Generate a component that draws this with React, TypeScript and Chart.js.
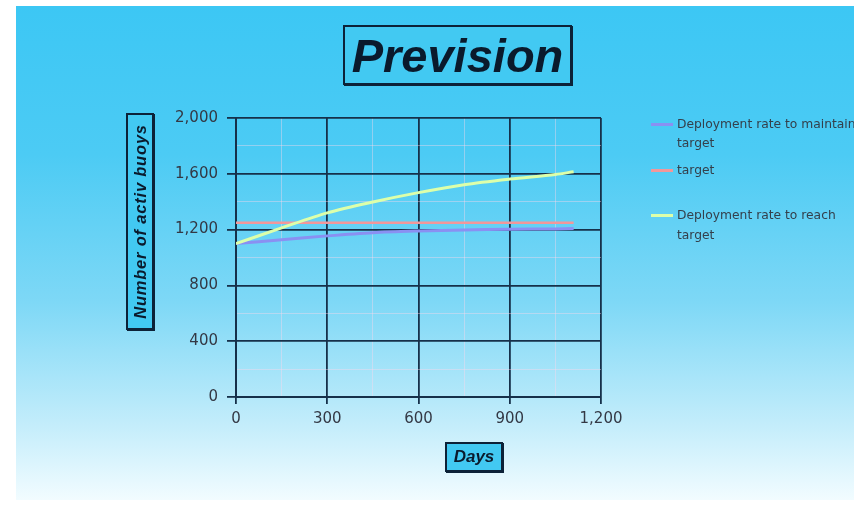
import React, { useEffect, useRef } from "react";
import { Chart, registerables } from "chart.js";

Chart.register(...registerables);

const days = [0, 150, 300, 450, 600, 750, 900, 1050, 1110];
const reachTarget = [1100, 1212, 1320, 1398, 1465, 1522, 1562, 1595, 1615];
const maintainTarget = [1100, 1127, 1155, 1178, 1190, 1198, 1203, 1205, 1207];
const targetDays = [0, 1110];
const targetValues = [1250, 1250];

const seriesLabels = [
  "Deployment rate to maintain target",
  "target",
  "Deployment rate to reach target",
];
const seriesColors = ["#8a90f2", "#f2979a", "#dcffaa"];

const chartTitle = "Prevision";
const xTitle = "Days";
const yTitle = "Number of activ buoys";

const xMin = 0, xMax = 1200, xStep = 150, xMajor = 300;
const yMin = 0, yMax = 2000, yStep = 200, yMajor = 400;

const MAJOR = "#16304a";
const MINOR = "rgba(255,215,235,0.4)";

export default function App() {
  const ref = useRef<HTMLCanvasElement | null>(null);

  useEffect(() => {
    if (!ref.current) return;
    const pts = (xs: number[], ys: number[]) => xs.map((x, i) => ({ x, y: ys[i] }));
    const chart = new Chart(ref.current, {
      type: "line",
      data: {
        datasets: [
          {
            label: seriesLabels[0],
            data: pts(days, maintainTarget),
            borderColor: seriesColors[0],
            borderWidth: 3,
            pointRadius: 0,
            tension: 0.3,
            order: 3,
          },
          {
            label: seriesLabels[1],
            data: pts(targetDays, targetValues),
            borderColor: seriesColors[1],
            borderWidth: 2.5,
            pointRadius: 0,
            order: 2,
          },
          {
            label: seriesLabels[2],
            data: pts(days, reachTarget),
            borderColor: seriesColors[2],
            borderWidth: 3,
            pointRadius: 0,
            tension: 0.3,
            order: 1,
          },
        ],
      },
      options: {
        animation: false,
        responsive: false,
        devicePixelRatio: 1,
        layout: { padding: { left: 0, top: 118, right: 253, bottom: 0 } },
        plugins: { legend: { display: false }, tooltip: { enabled: false }, title: { display: false } },
        scales: {
          x: {
            type: "linear",
            min: xMin,
            max: xMax,
            afterFit: (s: any) => { s.height = 112; },
            border: { display: true, color: MAJOR, width: 2 },
            grid: {
              color: (c: any) => (c.tick && c.tick.value % xMajor === 0 ? MAJOR : MINOR),
              lineWidth: (c: any) => (c.tick && c.tick.value % xMajor === 0 ? 1.8 : 1),
              tickColor: (c: any) => (c.tick && c.tick.value % xMajor === 0 ? MAJOR : "rgba(0,0,0,0)"),
              tickLength: 7,
            },
            ticks: {
              stepSize: xStep,
              autoSkip: false,
              maxRotation: 0,
              padding: 6,
              color: "#333844",
              font: { family: "DejaVu Sans", size: 15 },
              callback: (v: any) => (Number(v) % xMajor === 0 ? Number(v).toLocaleString("en-US") : ""),
            },
          },
          y: {
            min: yMin,
            max: yMax,
            afterFit: (s: any) => { s.width = 236; },
            border: { display: true, color: MAJOR, width: 2 },
            grid: {
              color: (c: any) => (c.tick && c.tick.value % yMajor === 0 ? MAJOR : MINOR),
              lineWidth: (c: any) => (c.tick && c.tick.value % yMajor === 0 ? 1.8 : 1),
              tickColor: (c: any) => (c.tick && c.tick.value % yMajor === 0 ? MAJOR : "rgba(0,0,0,0)"),
              tickLength: 9,
            },
            ticks: {
              stepSize: yStep,
              autoSkip: false,
              padding: 9,
              color: "#333844",
              font: { family: "DejaVu Sans", size: 15 },
              callback: (v: any) => (Number(v) % yMajor === 0 ? Number(v).toLocaleString("en-US") : ""),
            },
          },
        },
      },
    });
    return () => chart.destroy();
  }, []);

  const boxStyle: React.CSSProperties = {
    position: "absolute",
    border: "2px solid #0c2238",
    boxShadow: "1px 1px 0 #0c2238",
    background: "#42c9f2",
    color: "#0a1a2c",
    fontFamily: "'Liberation Sans', Arial, sans-serif",
    fontWeight: "bold",
    fontStyle: "italic",
    display: "flex",
    alignItems: "center",
    justifyContent: "center",
    boxSizing: "border-box",
    whiteSpace: "nowrap",
  };

  const legendText: React.CSSProperties = {
    position: "absolute",
    left: 677,
    fontFamily: "'DejaVu Sans', sans-serif",
    fontSize: 12.3,
    lineHeight: "19px",
    color: "#34404c",
    whiteSpace: "nowrap",
  };
  const legendLine = (top: number, color: string): React.CSSProperties => ({
    position: "absolute",
    left: 651,
    top,
    width: 22,
    height: 3,
    background: color,
  });

  return (
    <div style={{ position: "absolute", left: 0, top: 0, width: 854, height: 509, background: "#ffffff", overflow: "hidden" }}>
      <div
        style={{
          position: "absolute",
          left: 16,
          top: 6,
          width: 838,
          height: 494,
          background: "linear-gradient(180deg, #3cc7f4 0%, #4ccbf4 30%, #7ed8f6 60%, #c4edfb 85%, #f2fcff 100%)",
        }}
      />
      <canvas ref={ref} width={854} height={509} style={{ position: "absolute", left: 0, top: 0, width: 854, height: 509 }} />
      <div style={{ ...boxStyle, left: 343, top: 25, width: 229, height: 60, fontSize: 47 }}>{chartTitle}</div>
      <div style={{ ...boxStyle, left: 126, top: 113, width: 28, height: 217 }}>
        <span style={{ display: "inline-block", transform: "rotate(-90deg)", fontSize: 16.5, letterSpacing: 0.8 }}>{yTitle}</span>
      </div>
      <div style={{ ...boxStyle, left: 445, top: 442, width: 58, height: 30, fontSize: 17 }}>{xTitle}</div>

      <div style={legendLine(123, seriesColors[0])} />
      <div style={{ ...legendText, top: 115 }}>
        Deployment rate to maintain
        <br />
        target
      </div>
      <div style={legendLine(169, seriesColors[1])} />
      <div style={{ ...legendText, top: 161 }}>{seriesLabels[1]}</div>
      <div style={legendLine(214, seriesColors[2])} />
      <div style={{ ...legendText, top: 205, lineHeight: "20px" }}>
        Deployment rate to reach
        <br />
        target
      </div>
    </div>
  );
}
